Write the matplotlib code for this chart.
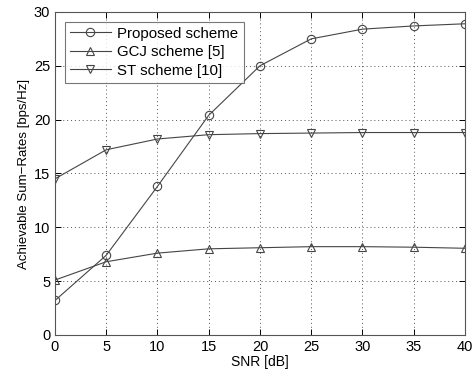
import matplotlib
matplotlib.use("Agg")
import matplotlib.pyplot as plt

plt.rcParams['font.family'] = ['Liberation Sans', 'DejaVu Sans']

# Data
snr = [0, 5, 10, 15, 20, 25, 30, 35, 40]
proposed = [3.2, 7.4, 13.8, 20.4, 25.0, 27.5, 28.4, 28.7, 28.9]
gcj = [5.1, 6.8, 7.6, 8.0, 8.1, 8.2, 8.2, 8.15, 8.05]
st = [14.5, 17.2, 18.2, 18.6, 18.7, 18.75, 18.8, 18.8, 18.8]

fig = plt.figure(figsize=(4.72, 3.73), dpi=100)
ax = fig.add_axes([0.1165, 0.102, 0.8685, 0.866])

style = dict(color='#454545', linewidth=0.8, markersize=6,
             markerfacecolor='none', markeredgecolor='#454545', markeredgewidth=0.8)
ax.plot(snr, proposed, marker='o', label='Proposed scheme', **style)
ax.plot(snr, gcj, marker='^', label='GCJ scheme [5]', **style)
ax.plot(snr, st, marker='v', label='ST scheme [10]', **style)

ax.set_xlim(0, 40)
ax.set_ylim(0, 30)
ax.set_xticks(range(0, 41, 5))
ax.set_yticks(range(0, 31, 5))
ax.grid(True, linestyle=(0, (1, 3)), color='#555555', linewidth=0.7)
ax.tick_params(direction='in', top=True, right=True, labelsize=10.5, length=4, width=0.7)
for s in ax.spines.values():
    s.set_color('#555555')
    s.set_linewidth(0.8)

ax.set_xlabel('SNR [dB]', fontsize=10, labelpad=1)
ax.set_ylabel('Achievable Sum\u2212Rates [bps/Hz]', fontsize=9.5, labelpad=3)

leg = ax.legend(loc='upper left', fontsize=10.8, fancybox=False, edgecolor='#555555',
                handlelength=2.7, borderpad=0.33, labelspacing=0.3,
                handletextpad=0.45, borderaxespad=0, bbox_to_anchor=(0.025, 0.97))
leg.get_frame().set_linewidth(0.8)

fig.savefig('out.png', dpi=100)
